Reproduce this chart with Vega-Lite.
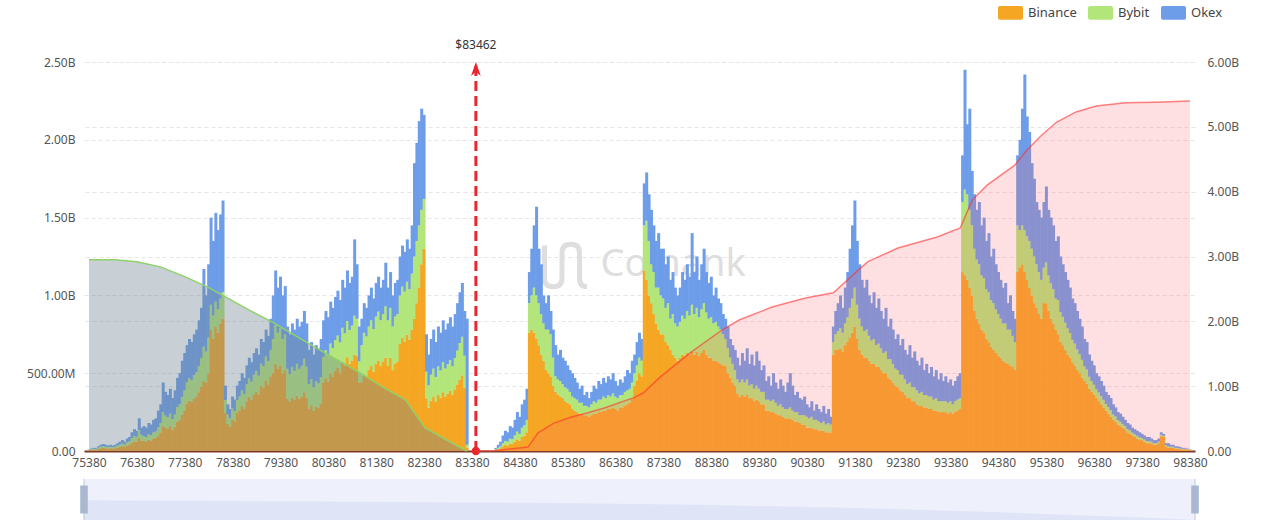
{
"$schema": "https://vega.github.io/schema/vega-lite/v6.json",
"background": "white",
"padding": {"left": 26, "top": 0, "right": 20, "bottom": 4},
"config": {"view": {"stroke": null}, "font": "Noto Sans"},
"spacing": 10,
"datasets": {
"bars": [
{"p":75380,"Binance":5,"Bybit":2,"Okex":3},{"p":75430,"Binance":7,"Bybit":4,"Okex":4},{"p":75480,"Binance":9,"Bybit":5,"Okex":6},{"p":75530,"Binance":9,"Bybit":5,"Okex":6},{"p":75580,"Binance":14,"Bybit":7,"Okex":9},{"p":75630,"Binance":18,"Bybit":10,"Okex":12},{"p":75680,"Binance":20,"Bybit":11,"Okex":14},{"p":75730,"Binance":18,"Bybit":10,"Okex":12},{"p":75780,"Binance":16,"Bybit":9,"Okex":10},{"p":75830,"Binance":18,"Bybit":10,"Okex":12},{"p":75880,"Binance":16,"Bybit":9,"Okex":10},{"p":75930,"Binance":18,"Bybit":10,"Okex":12},{"p":75980,"Binance":22,"Bybit":13,"Okex":15},
{"p":76030,"Binance":27,"Bybit":15,"Okex":18},{"p":76080,"Binance":31,"Bybit":18,"Okex":21},{"p":76130,"Binance":27,"Bybit":15,"Okex":18},{"p":76180,"Binance":36,"Bybit":20,"Okex":24},{"p":76230,"Binance":40,"Bybit":23,"Okex":27},{"p":76280,"Binance":54,"Bybit":30,"Okex":36},{"p":76330,"Binance":63,"Bybit":35,"Okex":42},{"p":76380,"Binance":58,"Bybit":33,"Okex":39},{"p":76430,"Binance":85,"Bybit":50,"Okex":75},{"p":76480,"Binance":67,"Bybit":38,"Okex":45},
{"p":76530,"Binance":64,"Bybit":32,"Okex":64},{"p":76580,"Binance":60,"Bybit":30,"Okex":60},{"p":76630,"Binance":72,"Bybit":36,"Okex":72},{"p":76680,"Binance":68,"Bybit":34,"Okex":68},{"p":76730,"Binance":80,"Bybit":40,"Okex":80},{"p":76780,"Binance":84,"Bybit":42,"Okex":84},{"p":76830,"Binance":100,"Bybit":52,"Okex":108},{"p":76880,"Binance":120,"Bybit":60,"Okex":120},
{"p":76930,"Binance":160,"Bybit":90,"Okex":190},{"p":76980,"Binance":152,"Bybit":76,"Okex":152},{"p":77030,"Binance":144,"Bybit":72,"Okex":144},{"p":77080,"Binance":160,"Bybit":80,"Okex":160},{"p":77130,"Binance":136,"Bybit":68,"Okex":136},{"p":77180,"Binance":156,"Bybit":78,"Okex":156},{"p":77230,"Binance":188,"Bybit":94,"Okex":188},{"p":77280,"Binance":200,"Bybit":100,"Okex":200},{"p":77330,"Binance":232,"Bybit":116,"Okex":232},{"p":77380,"Binance":260,"Bybit":130,"Okex":240},
{"p":77430,"Binance":306,"Bybit":136,"Okex":238},{"p":77480,"Binance":324,"Bybit":144,"Okex":252},{"p":77530,"Binance":315,"Bybit":140,"Okex":245},{"p":77580,"Binance":338,"Bybit":150,"Okex":262},{"p":77630,"Binance":351,"Bybit":156,"Okex":273},{"p":77680,"Binance":378,"Bybit":168,"Okex":294},{"p":77730,"Binance":414,"Bybit":184,"Okex":322},{"p":77780,"Binance":450,"Bybit":220,"Okex":500},{"p":77830,"Binance":440,"Bybit":200,"Okex":360},{"p":77880,"Binance":500,"Bybit":230,"Okex":470},
{"p":77930,"Binance":780,"Bybit":160,"Okex":560},{"p":77980,"Binance":720,"Bybit":150,"Okex":480},{"p":78030,"Binance":800,"Bybit":160,"Okex":570},{"p":78080,"Binance":760,"Bybit":150,"Okex":510},{"p":78130,"Binance":820,"Bybit":160,"Okex":540},{"p":78180,"Binance":850,"Bybit":170,"Okex":590},
{"p":78230,"Binance":244,"Bybit":84,"Okex":92},{"p":78280,"Binance":174,"Bybit":60,"Okex":66},{"p":78330,"Binance":157,"Bybit":54,"Okex":59},{"p":78380,"Binance":203,"Bybit":70,"Okex":77},{"p":78430,"Binance":191,"Bybit":66,"Okex":73},{"p":78480,"Binance":244,"Bybit":84,"Okex":92},{"p":78530,"Binance":261,"Bybit":90,"Okex":99},{"p":78580,"Binance":290,"Bybit":100,"Okex":110},{"p":78630,"Binance":273,"Bybit":94,"Okex":103},{"p":78680,"Binance":319,"Bybit":110,"Okex":121},{"p":78730,"Binance":348,"Bybit":120,"Okex":132},{"p":78780,"Binance":331,"Bybit":114,"Okex":125},{"p":78830,"Binance":365,"Bybit":126,"Okex":139},{"p":78880,"Binance":383,"Bybit":132,"Okex":145},{"p":78930,"Binance":360,"Bybit":124,"Okex":136},{"p":78980,"Binance":418,"Bybit":144,"Okex":158},{"p":79030,"Binance":406,"Bybit":140,"Okex":154},{"p":79080,"Binance":452,"Bybit":156,"Okex":172},{"p":79130,"Binance":429,"Bybit":148,"Okex":163},{"p":79180,"Binance":480,"Bybit":170,"Okex":200},
{"p":79230,"Binance":500,"Bybit":220,"Okex":280},{"p":79280,"Binance":560,"Bybit":250,"Okex":350},{"p":79330,"Binance":530,"Bybit":230,"Okex":290},{"p":79380,"Binance":550,"Bybit":240,"Okex":330},{"p":79430,"Binance":500,"Bybit":220,"Okex":280},{"p":79480,"Binance":520,"Bybit":230,"Okex":310},
{"p":79530,"Binance":336,"Bybit":192,"Okex":272},{"p":79580,"Binance":315,"Bybit":180,"Okex":255},{"p":79630,"Binance":344,"Bybit":197,"Okex":279},{"p":79680,"Binance":328,"Bybit":187,"Okex":265},{"p":79730,"Binance":357,"Bybit":204,"Okex":289},{"p":79780,"Binance":336,"Bybit":192,"Okex":272},{"p":79830,"Binance":349,"Bybit":199,"Okex":282},{"p":79880,"Binance":378,"Bybit":216,"Okex":306},{"p":79930,"Binance":344,"Bybit":197,"Okex":279},{"p":79980,"Binance":273,"Bybit":156,"Okex":221},{"p":80030,"Binance":294,"Bybit":168,"Okex":238},{"p":80080,"Binance":260,"Bybit":149,"Okex":211},{"p":80130,"Binance":286,"Bybit":163,"Okex":231},{"p":80180,"Binance":277,"Bybit":158,"Okex":225},{"p":80230,"Binance":302,"Bybit":173,"Okex":245},
{"p":80280,"Binance":437,"Bybit":168,"Okex":235},{"p":80330,"Binance":468,"Bybit":180,"Okex":252},{"p":80380,"Binance":447,"Bybit":172,"Okex":241},{"p":80430,"Binance":499,"Bybit":192,"Okex":269},{"p":80480,"Binance":478,"Bybit":184,"Okex":258},{"p":80530,"Binance":515,"Bybit":198,"Okex":277},{"p":80580,"Binance":536,"Bybit":206,"Okex":288},{"p":80630,"Binance":504,"Bybit":194,"Okex":272},{"p":80680,"Binance":572,"Bybit":220,"Okex":308},{"p":80730,"Binance":546,"Bybit":210,"Okex":294},{"p":80780,"Binance":603,"Bybit":232,"Okex":325},{"p":80830,"Binance":562,"Bybit":216,"Okex":302},{"p":80880,"Binance":582,"Bybit":224,"Okex":314},{"p":80930,"Binance":620,"Bybit":250,"Okex":490},{"p":80980,"Binance":610,"Bybit":240,"Okex":350},{"p":81030,"Binance":440,"Bybit":136,"Okex":224},
{"p":81080,"Binance":442,"Bybit":238,"Okex":170},{"p":81130,"Binance":494,"Bybit":266,"Okex":190},{"p":81180,"Binance":478,"Bybit":258,"Okex":184},{"p":81230,"Binance":520,"Bybit":280,"Okex":200},{"p":81280,"Binance":546,"Bybit":294,"Okex":210},{"p":81330,"Binance":510,"Bybit":274,"Okex":196},{"p":81380,"Binance":562,"Bybit":302,"Okex":216},{"p":81430,"Binance":582,"Bybit":314,"Okex":224},{"p":81480,"Binance":546,"Bybit":294,"Okex":210},{"p":81530,"Binance":572,"Bybit":308,"Okex":220},{"p":81580,"Binance":600,"Bybit":330,"Okex":280},{"p":81630,"Binance":546,"Bybit":294,"Okex":210},{"p":81680,"Binance":598,"Bybit":322,"Okex":230},{"p":81730,"Binance":520,"Bybit":280,"Okex":200},{"p":81780,"Binance":562,"Bybit":302,"Okex":216},{"p":81830,"Binance":572,"Bybit":308,"Okex":220},
{"p":81880,"Binance":688,"Bybit":312,"Okex":250},{"p":81930,"Binance":726,"Bybit":330,"Okex":264},{"p":81980,"Binance":704,"Bybit":320,"Okex":256},{"p":82030,"Binance":748,"Bybit":340,"Okex":272},{"p":82080,"Binance":715,"Bybit":325,"Okex":260},{"p":82130,"Binance":780,"Bybit":360,"Okex":310},
{"p":82180,"Binance":850,"Bybit":400,"Okex":600},{"p":82230,"Binance":950,"Bybit":400,"Okex":630},{"p":82280,"Binance":1050,"Bybit":400,"Okex":670},{"p":82330,"Binance":1200,"Bybit":350,"Okex":650},{"p":82380,"Binance":1300,"Bybit":320,"Okex":540},
{"p":82430,"Binance":338,"Bybit":172,"Okex":240},{"p":82480,"Binance":279,"Bybit":143,"Okex":198},{"p":82530,"Binance":324,"Bybit":166,"Okex":230},{"p":82580,"Binance":351,"Bybit":179,"Okex":250},{"p":82630,"Binance":315,"Bybit":161,"Okex":224},{"p":82680,"Binance":360,"Bybit":184,"Okex":256},{"p":82730,"Binance":342,"Bybit":175,"Okex":243},{"p":82780,"Binance":378,"Bybit":193,"Okex":269},{"p":82830,"Binance":351,"Bybit":179,"Okex":250},{"p":82880,"Binance":369,"Bybit":189,"Okex":262},{"p":82930,"Binance":387,"Bybit":198,"Okex":275},{"p":82980,"Binance":360,"Bybit":184,"Okex":256},{"p":83030,"Binance":396,"Bybit":202,"Okex":282},{"p":83080,"Binance":428,"Bybit":218,"Okex":304},{"p":83130,"Binance":459,"Bybit":235,"Okex":326},{"p":83180,"Binance":486,"Bybit":248,"Okex":346},{"p":83230,"Binance":405,"Bybit":207,"Okex":288},{"p":83280,"Binance":20,"Bybit":20,"Okex":810},
{"p":83880,"Binance":6,"Bybit":4,"Okex":10},{"p":83930,"Binance":12,"Bybit":8,"Okex":20},{"p":83980,"Binance":18,"Bybit":12,"Okex":30},{"p":84030,"Binance":30,"Bybit":20,"Okex":50},{"p":84080,"Binance":39,"Bybit":26,"Okex":65},{"p":84130,"Binance":36,"Bybit":24,"Okex":60},{"p":84180,"Binance":48,"Bybit":32,"Okex":80},{"p":84230,"Binance":45,"Bybit":30,"Okex":75},{"p":84280,"Binance":60,"Bybit":40,"Okex":100},{"p":84330,"Binance":75,"Bybit":50,"Okex":125},{"p":84380,"Binance":66,"Bybit":44,"Okex":110},{"p":84430,"Binance":90,"Bybit":60,"Okex":150},{"p":84480,"Binance":99,"Bybit":66,"Okex":165},{"p":84530,"Binance":120,"Bybit":80,"Okex":200},
{"p":84580,"Binance":760,"Bybit":190,"Okex":200},{"p":84630,"Binance":780,"Bybit":220,"Okex":300},{"p":84680,"Binance":760,"Bybit":290,"Okex":400},{"p":84730,"Binance":720,"Bybit":280,"Okex":570},{"p":84780,"Binance":680,"Bybit":270,"Okex":350},{"p":84830,"Binance":620,"Bybit":260,"Okex":320},{"p":84880,"Binance":580,"Bybit":240,"Okex":180},{"p":84930,"Binance":520,"Bybit":260,"Okex":170},{"p":84980,"Binance":500,"Bybit":280,"Okex":220},{"p":85030,"Binance":480,"Bybit":270,"Okex":150},{"p":85080,"Binance":420,"Bybit":180,"Okex":180},
{"p":85130,"Binance":380,"Bybit":100,"Okex":200},{"p":85180,"Binance":360,"Bybit":100,"Okex":160},{"p":85230,"Binance":350,"Bybit":100,"Okex":200},{"p":85280,"Binance":340,"Bybit":90,"Okex":170},{"p":85330,"Binance":320,"Bybit":90,"Okex":170},{"p":85380,"Binance":310,"Bybit":90,"Okex":150},{"p":85430,"Binance":300,"Bybit":80,"Okex":140},
{"p":85480,"Binance":270,"Bybit":80,"Okex":150},{"p":85530,"Binance":260,"Bybit":80,"Okex":130},{"p":85580,"Binance":250,"Bybit":80,"Okex":110},{"p":85630,"Binance":240,"Bybit":70,"Okex":90},{"p":85680,"Binance":240,"Bybit":70,"Okex":110},{"p":85730,"Binance":230,"Bybit":60,"Okex":70},{"p":85780,"Binance":230,"Bybit":60,"Okex":90},{"p":85830,"Binance":220,"Bybit":60,"Okex":60},
{"p":85880,"Binance":230,"Bybit":70,"Okex":80},{"p":85930,"Binance":240,"Bybit":80,"Okex":100},{"p":85980,"Binance":240,"Bybit":70,"Okex":90},{"p":86030,"Binance":250,"Bybit":80,"Okex":120},{"p":86080,"Binance":250,"Bybit":80,"Okex":100},{"p":86130,"Binance":260,"Bybit":90,"Okex":120},{"p":86180,"Binance":260,"Bybit":80,"Okex":100},{"p":86230,"Binance":270,"Bybit":90,"Okex":120},{"p":86280,"Binance":270,"Bybit":80,"Okex":110},{"p":86330,"Binance":280,"Bybit":90,"Okex":130},{"p":86380,"Binance":270,"Bybit":80,"Okex":100},{"p":86430,"Binance":260,"Bybit":80,"Okex":80},{"p":86480,"Binance":280,"Bybit":80,"Okex":100},{"p":86530,"Binance":280,"Bybit":80,"Okex":80},{"p":86580,"Binance":290,"Bybit":90,"Okex":100},{"p":86630,"Binance":300,"Bybit":90,"Okex":130},{"p":86680,"Binance":310,"Bybit":90,"Okex":100},{"p":86730,"Binance":340,"Bybit":100,"Okex":140},
{"p":86780,"Binance":420,"Bybit":80,"Okex":120},{"p":86830,"Binance":450,"Bybit":100,"Okex":150},{"p":86880,"Binance":500,"Bybit":100,"Okex":160},{"p":86930,"Binance":480,"Bybit":100,"Okex":140},
{"p":86980,"Binance":1160,"Bybit":290,"Okex":270},{"p":87030,"Binance":1100,"Bybit":380,"Okex":310},{"p":87080,"Binance":1000,"Bybit":350,"Okex":300},{"p":87130,"Binance":950,"Bybit":250,"Okex":350},{"p":87180,"Binance":880,"Bybit":270,"Okex":300},{"p":87230,"Binance":820,"Bybit":230,"Okex":300},{"p":87280,"Binance":780,"Bybit":270,"Okex":350},{"p":87330,"Binance":750,"Bybit":250,"Okex":300},{"p":87380,"Binance":750,"Bybit":230,"Okex":320},{"p":87430,"Binance":700,"Bybit":220,"Okex":280},{"p":87480,"Binance":680,"Bybit":270,"Okex":300},{"p":87530,"Binance":650,"Bybit":200,"Okex":250},{"p":87580,"Binance":620,"Bybit":260,"Okex":270},{"p":87630,"Binance":600,"Bybit":220,"Okex":230},{"p":87680,"Binance":580,"Bybit":220,"Okex":200},
{"p":87730,"Binance":600,"Bybit":230,"Okex":220},{"p":87780,"Binance":620,"Bybit":250,"Okex":280},{"p":87830,"Binance":610,"Bybit":240,"Okex":250},{"p":87880,"Binance":630,"Bybit":270,"Okex":300},{"p":87930,"Binance":620,"Bybit":250,"Okex":250},{"p":87980,"Binance":640,"Bybit":300,"Okex":460},{"p":88030,"Binance":620,"Bybit":260,"Okex":270},{"p":88080,"Binance":640,"Bybit":280,"Okex":330},{"p":88130,"Binance":610,"Bybit":250,"Okex":240},{"p":88180,"Binance":630,"Bybit":280,"Okex":290},{"p":88230,"Binance":650,"Bybit":300,"Okex":350},{"p":88280,"Binance":620,"Bybit":270,"Okex":260},{"p":88330,"Binance":600,"Bybit":250,"Okex":230},{"p":88380,"Binance":600,"Bybit":260,"Okex":260},{"p":88430,"Binance":580,"Bybit":240,"Okex":180},{"p":88480,"Binance":580,"Bybit":250,"Okex":220},{"p":88530,"Binance":570,"Bybit":230,"Okex":180},{"p":88580,"Binance":560,"Bybit":220,"Okex":170},{"p":88630,"Binance":550,"Bybit":200,"Okex":130},
{"p":88680,"Binance":550,"Bybit":170,"Okex":130},{"p":88730,"Binance":500,"Bybit":160,"Okex":140},{"p":88780,"Binance":470,"Bybit":130,"Okex":120},{"p":88830,"Binance":440,"Bybit":120,"Okex":120},{"p":88880,"Binance":420,"Bybit":100,"Okex":130},
{"p":88930,"Binance":370,"Bybit":90,"Okex":140},{"p":88980,"Binance":350,"Bybit":90,"Okex":110},{"p":89030,"Binance":360,"Bybit":100,"Okex":170},{"p":89080,"Binance":350,"Bybit":90,"Okex":140},{"p":89130,"Binance":360,"Bybit":100,"Okex":200},{"p":89180,"Binance":340,"Bybit":80,"Okex":140},{"p":89230,"Binance":340,"Bybit":90,"Okex":190},{"p":89280,"Binance":320,"Bybit":80,"Okex":150},{"p":89330,"Binance":330,"Bybit":90,"Okex":220},{"p":89380,"Binance":320,"Bybit":80,"Okex":180},{"p":89430,"Binance":300,"Bybit":80,"Okex":140},{"p":89480,"Binance":300,"Bybit":80,"Okex":170},
{"p":89530,"Binance":260,"Bybit":70,"Okex":120},{"p":89580,"Binance":260,"Bybit":70,"Okex":150},{"p":89630,"Binance":250,"Bybit":70,"Okex":100},{"p":89680,"Binance":250,"Bybit":80,"Okex":170},{"p":89730,"Binance":240,"Bybit":70,"Okex":130},{"p":89780,"Binance":230,"Bybit":60,"Okex":110},{"p":89830,"Binance":230,"Bybit":70,"Okex":160},{"p":89880,"Binance":220,"Bybit":60,"Okex":140},{"p":89930,"Binance":210,"Bybit":60,"Okex":110},{"p":89980,"Binance":210,"Bybit":60,"Okex":170},{"p":90030,"Binance":210,"Bybit":70,"Okex":220},{"p":90080,"Binance":200,"Bybit":60,"Okex":160},{"p":90130,"Binance":190,"Bybit":60,"Okex":110},{"p":90180,"Binance":190,"Bybit":60,"Okex":130},{"p":90230,"Binance":180,"Bybit":50,"Okex":110},{"p":90280,"Binance":170,"Bybit":60,"Okex":100},{"p":90330,"Binance":170,"Bybit":60,"Okex":120},
{"p":90380,"Binance":150,"Bybit":70,"Okex":80},{"p":90430,"Binance":150,"Bybit":60,"Okex":70},{"p":90480,"Binance":150,"Bybit":70,"Okex":100},{"p":90530,"Binance":140,"Bybit":60,"Okex":60},{"p":90580,"Binance":140,"Bybit":60,"Okex":100},{"p":90630,"Binance":130,"Bybit":60,"Okex":80},{"p":90680,"Binance":130,"Bybit":50,"Okex":70},{"p":90730,"Binance":130,"Bybit":60,"Okex":100},{"p":90780,"Binance":120,"Bybit":50,"Okex":70},{"p":90830,"Binance":120,"Bybit":60,"Okex":90},{"p":90880,"Binance":120,"Bybit":50,"Okex":50},
{"p":90930,"Binance":620,"Bybit":80,"Okex":100},{"p":90980,"Binance":650,"Bybit":100,"Okex":150},{"p":91030,"Binance":650,"Bybit":120,"Okex":180},{"p":91080,"Binance":660,"Bybit":130,"Okex":210},{"p":91130,"Binance":640,"Bybit":120,"Okex":160},{"p":91180,"Binance":680,"Bybit":140,"Okex":230},{"p":91230,"Binance":700,"Bybit":160,"Okex":290},{"p":91280,"Binance":730,"Bybit":190,"Okex":380},{"p":91330,"Binance":760,"Bybit":220,"Okex":470},{"p":91380,"Binance":800,"Bybit":250,"Okex":560},{"p":91430,"Binance":720,"Bybit":220,"Okex":410},{"p":91480,"Binance":650,"Bybit":200,"Okex":350},{"p":91530,"Binance":620,"Bybit":180,"Okex":300},{"p":91580,"Binance":600,"Bybit":170,"Okex":280},{"p":91630,"Binance":600,"Bybit":180,"Okex":320},{"p":91680,"Binance":580,"Bybit":160,"Okex":260},{"p":91730,"Binance":560,"Bybit":150,"Okex":240},{"p":91780,"Binance":560,"Bybit":160,"Okex":300},{"p":91830,"Binance":540,"Bybit":140,"Okex":240},{"p":91880,"Binance":540,"Bybit":150,"Okex":290},{"p":91930,"Binance":520,"Bybit":140,"Okex":240},{"p":91980,"Binance":500,"Bybit":130,"Okex":220},{"p":92030,"Binance":500,"Bybit":140,"Okex":280},{"p":92080,"Binance":470,"Bybit":120,"Okex":210},{"p":92130,"Binance":460,"Bybit":130,"Okex":260},{"p":92180,"Binance":440,"Bybit":120,"Okex":220},{"p":92230,"Binance":420,"Bybit":110,"Okex":190},{"p":92280,"Binance":410,"Bybit":110,"Okex":230},{"p":92330,"Binance":390,"Bybit":100,"Okex":190},{"p":92380,"Binance":380,"Bybit":110,"Okex":230},{"p":92430,"Binance":360,"Bybit":100,"Okex":190},{"p":92480,"Binance":340,"Bybit":90,"Okex":190},{"p":92530,"Binance":340,"Bybit":100,"Okex":240},{"p":92580,"Binance":320,"Bybit":90,"Okex":190},{"p":92630,"Binance":320,"Bybit":90,"Okex":230},{"p":92680,"Binance":300,"Bybit":90,"Okex":190},{"p":92730,"Binance":290,"Bybit":80,"Okex":180},{"p":92780,"Binance":290,"Bybit":90,"Okex":220},{"p":92830,"Binance":280,"Bybit":80,"Okex":160},{"p":92880,"Binance":280,"Bybit":80,"Okex":200},{"p":92930,"Binance":270,"Bybit":80,"Okex":150},{"p":92980,"Binance":270,"Bybit":80,"Okex":190},{"p":93030,"Binance":260,"Bybit":70,"Okex":150},{"p":93080,"Binance":260,"Bybit":80,"Okex":180},{"p":93130,"Binance":250,"Bybit":70,"Okex":140},{"p":93180,"Binance":250,"Bybit":70,"Okex":180},{"p":93230,"Binance":250,"Bybit":70,"Okex":130},{"p":93280,"Binance":250,"Bybit":70,"Okex":160},{"p":93330,"Binance":240,"Bybit":70,"Okex":130},{"p":93380,"Binance":250,"Bybit":70,"Okex":140},{"p":93430,"Binance":240,"Bybit":60,"Okex":120},{"p":93480,"Binance":250,"Bybit":70,"Okex":130},{"p":93530,"Binance":260,"Bybit":70,"Okex":150},{"p":93580,"Binance":270,"Bybit":70,"Okex":160},
{"p":93630,"Binance":1150,"Bybit":450,"Okex":300},{"p":93680,"Binance":1130,"Bybit":550,"Okex":770},{"p":93730,"Binance":1100,"Bybit":550,"Okex":450},{"p":93780,"Binance":1050,"Bybit":500,"Okex":650},{"p":93830,"Binance":1000,"Bybit":450,"Okex":350},{"p":93880,"Binance":900,"Bybit":400,"Okex":350},{"p":93930,"Binance":850,"Bybit":380,"Okex":320},{"p":93980,"Binance":820,"Bybit":380,"Okex":400},{"p":94030,"Binance":780,"Bybit":350,"Okex":320},{"p":94080,"Binance":760,"Bybit":350,"Okex":390},{"p":94130,"Binance":720,"Bybit":320,"Okex":310},{"p":94180,"Binance":700,"Bybit":320,"Okex":380},{"p":94230,"Binance":670,"Bybit":300,"Okex":280},{"p":94280,"Binance":650,"Bybit":300,"Okex":350},{"p":94330,"Binance":630,"Bybit":280,"Okex":290},{"p":94380,"Binance":610,"Bybit":270,"Okex":270},{"p":94430,"Binance":600,"Bybit":250,"Okex":250},{"p":94480,"Binance":580,"Bybit":240,"Okex":230},{"p":94530,"Binance":570,"Bybit":250,"Okex":260},{"p":94580,"Binance":560,"Bybit":220,"Okex":170},{"p":94630,"Binance":550,"Bybit":230,"Okex":220},{"p":94680,"Binance":540,"Bybit":200,"Okex":160},{"p":94730,"Binance":520,"Bybit":180,"Okex":150},
{"p":94780,"Binance":1150,"Bybit":300,"Okex":450},{"p":94830,"Binance":1180,"Bybit":240,"Okex":580},{"p":94880,"Binance":1200,"Bybit":250,"Okex":750},{"p":94930,"Binance":1150,"Bybit":270,"Okex":1000},{"p":94980,"Binance":1100,"Bybit":280,"Okex":770},{"p":95030,"Binance":1050,"Bybit":300,"Okex":700},{"p":95080,"Binance":1000,"Bybit":300,"Okex":550},{"p":95130,"Binance":950,"Bybit":300,"Okex":500},{"p":95180,"Binance":920,"Bybit":280,"Okex":400},{"p":95230,"Binance":880,"Bybit":270,"Okex":400},{"p":95280,"Binance":850,"Bybit":250,"Okex":400},
{"p":95330,"Binance":950,"Bybit":228,"Okex":422},{"p":95380,"Binance":950,"Bybit":262,"Okex":488},{"p":95430,"Binance":900,"Bybit":228,"Okex":422},{"p":95480,"Binance":850,"Bybit":228,"Okex":422},{"p":95530,"Binance":820,"Bybit":220,"Okex":410},{"p":95580,"Binance":780,"Bybit":200,"Okex":370},{"p":95630,"Binance":750,"Bybit":220,"Okex":410},{"p":95680,"Binance":700,"Bybit":192,"Okex":358},{"p":95730,"Binance":680,"Bybit":182,"Okex":338},{"p":95780,"Binance":650,"Bybit":175,"Okex":325},{"p":95830,"Binance":620,"Bybit":168,"Okex":312},{"p":95880,"Binance":600,"Bybit":158,"Okex":292},{"p":95930,"Binance":570,"Bybit":144,"Okex":266},{"p":95980,"Binance":550,"Bybit":140,"Okex":260},{"p":96030,"Binance":520,"Bybit":133,"Okex":247},{"p":96080,"Binance":500,"Bybit":122,"Okex":228},{"p":96130,"Binance":470,"Bybit":116,"Okex":214},{"p":96180,"Binance":450,"Bybit":94,"Okex":176},{"p":96230,"Binance":430,"Bybit":94,"Okex":176},{"p":96280,"Binance":400,"Bybit":77,"Okex":143},{"p":96330,"Binance":380,"Bybit":70,"Okex":130},{"p":96380,"Binance":360,"Bybit":66,"Okex":124},{"p":96430,"Binance":340,"Bybit":56,"Okex":104},{"p":96480,"Binance":320,"Bybit":56,"Okex":104},{"p":96530,"Binance":300,"Bybit":52,"Okex":98},{"p":96580,"Binance":280,"Bybit":49,"Okex":91},{"p":96630,"Binance":260,"Bybit":42,"Okex":78},{"p":96680,"Binance":240,"Bybit":42,"Okex":78},{"p":96730,"Binance":220,"Bybit":42,"Okex":78},{"p":96780,"Binance":200,"Bybit":35,"Okex":65},{"p":96830,"Binance":190,"Bybit":32,"Okex":58},{"p":96880,"Binance":170,"Bybit":28,"Okex":52},{"p":96930,"Binance":160,"Bybit":28,"Okex":52},{"p":96980,"Binance":150,"Bybit":24,"Okex":46},{"p":97030,"Binance":140,"Bybit":21,"Okex":39},{"p":97080,"Binance":120,"Bybit":21,"Okex":39},{"p":97130,"Binance":110,"Bybit":21,"Okex":39},{"p":97180,"Binance":100,"Bybit":18,"Okex":32},{"p":97230,"Binance":90,"Bybit":18,"Okex":32},{"p":97280,"Binance":80,"Bybit":18,"Okex":32},{"p":97330,"Binance":70,"Bybit":18,"Okex":32},{"p":97380,"Binance":70,"Bybit":14,"Okex":26},{"p":97430,"Binance":60,"Bybit":14,"Okex":26},{"p":97480,"Binance":50,"Bybit":14,"Okex":26},{"p":97530,"Binance":50,"Bybit":14,"Okex":26},{"p":97580,"Binance":50,"Bybit":10,"Okex":20},{"p":97630,"Binance":40,"Bybit":10,"Okex":20},{"p":97680,"Binance":40,"Bybit":10,"Okex":20},{"p":97730,"Binance":50,"Bybit":10,"Okex":20},{"p":97780,"Binance":95,"Bybit":10,"Okex":15},{"p":97830,"Binance":90,"Bybit":8,"Okex":12},{"p":97880,"Binance":30,"Bybit":7,"Okex":13},{"p":97930,"Binance":20,"Bybit":10,"Okex":20},{"p":97980,"Binance":20,"Bybit":7,"Okex":13},{"p":98030,"Binance":20,"Bybit":7,"Okex":13},{"p":98080,"Binance":15,"Bybit":5,"Okex":10},{"p":98130,"Binance":15,"Bybit":5,"Okex":10},{"p":98180,"Binance":10,"Bybit":5,"Okex":10},{"p":98230,"Binance":10,"Bybit":4,"Okex":6},{"p":98280,"Binance":10,"Bybit":4,"Okex":6},{"p":98330,"Binance":10,"Bybit":2,"Okex":3},{"p":98380,"Binance":5,"Bybit":2,"Okex":3}
],
"left": [{"p":75380,"c":2950},{"p":75920,"c":2950},{"p":76380,"c":2920},{"p":76870,"c":2840},{"p":77380,"c":2690},{"p":77880,"c":2520},{"p":78220,"c":2380},{"p":78710,"c":2180},{"p":79230,"c":1980},{"p":79850,"c":1710},{"p":80270,"c":1530},{"p":80680,"c":1360},{"p":81050,"c":1200},{"p":81510,"c":990},{"p":81990,"c":790},{"p":82400,"c":355},{"p":83270,"c":0}],
"right": [{"p":83462,"c":0},{"p":83840,"c":5},{"p":84550,"c":60},{"p":84760,"c":280},{"p":85090,"c":430},{"p":85440,"c":520},{"p":85800,"c":590},{"p":86130,"c":660},{"p":86750,"c":820},{"p":86950,"c":890},{"p":87310,"c":1140},{"p":87930,"c":1510},{"p":88610,"c":1870},{"p":88960,"c":2020},{"p":89650,"c":2220},{"p":90350,"c":2360},{"p":90930,"c":2440},{"p":91450,"c":2790},{"p":91650,"c":2920},{"p":92280,"c":3130},{"p":93100,"c":3300},{"p":93580,"c":3440},{"p":93830,"c":3870},{"p":94140,"c":4100},{"p":94720,"c":4410},{"p":94970,"c":4640},{"p":95280,"c":4870},{"p":95590,"c":5070},{"p":96000,"c":5230},{"p":96420,"c":5320},{"p":97040,"c":5370},{"p":97660,"c":5380},{"p":98380,"c":5400}],
"shadow": [{"p":75380,"s":0.48},{"p":80000,"s":0.45},{"p":84650,"s":0.42},{"p":88000,"s":0.37},{"p":91180,"s":0.3},{"p":94500,"s":0.18},{"p":97700,"s":0.04},{"p":98380,"s":0}],
"ends": [{"p":75380,"h":0.5},{"p":98380,"h":0.5}]
},
"vconcat": [
{
"width": 1111,
"height": 389,
"encoding": {
  "x": {"field": "p", "type": "quantitative", "title": null,
    "scale": {"domain": [75380, 98380], "nice": false, "zero": false},
    "axis": {"values": [75380,76380,77380,78380,79380,80380,81380,82380,83380,84380,85380,86380,87380,88380,89380,90380,91380,92380,93380,94380,95380,96380,97380,98380],
      "format": "d", "grid": false, "ticks": false, "labelPadding": 6, "labelFontSize": 12, "labelColor": "#555", "labelFlush": false, "labelOverlap": false,
      "domainColor": "#7d3a2c", "domainWidth": 2}}
},
"layer": [
 {
  "layer": [
   {"data": {"values": [{"p": 86063, "v": 1195, "t": "Coinank"}]},
    "mark": {"type": "text", "align": "left", "baseline": "middle", "fontSize": 38, "color": "#dedede", "font": "Noto Sans"},
    "encoding": {"y": {"field": "v", "type": "quantitative", "title": null}, "text": {"field": "t"}}},
   {"data": {"values": [{"p": 85339, "v": 1200}]},
    "mark": {"type": "point", "shape": "M-0.85,-0.75 V0.55 Q-0.85,0.9 -0.5,0.9 Q-0.15,0.9 -0.15,0.55 V-0.45 Q-0.15,-0.8 0.2,-0.8 Q0.55,-0.8 0.55,-0.45 V0.55 Q0.55,0.9 0.85,0.9", "size": 2500, "filled": false, "stroke": "#dedede", "strokeWidth": 5, "opacity": 1},
    "encoding": {"y": {"field": "v", "type": "quantitative", "title": null}}},
   {"data": {"name": "bars"},
    "transform": [{"fold": ["Binance", "Bybit", "Okex"], "as": ["ex", "v"]}],
    "mark": {"type": "bar", "width": 3},
    "encoding": {
      "y": {"field": "v", "type": "quantitative", "stack": "zero", "title": null,
        "scale": {"domain": [0, 2500], "nice": false},
        "axis": {"orient": "left", "values": [0, 500, 1000, 1500, 2000, 2500], "labelExpr": "datum.value == 0 ? '0.00' : datum.value < 1000 ? format(datum.value, '.2f') + 'M' : format(datum.value / 1000, '.2f') + 'B'",
          "grid": true, "gridDash": [4, 3], "gridColor": "#e6e6e6", "domain": false, "ticks": false, "labelPadding": 9, "labelFontSize": 12, "labelColor": "#555"}},
      "order": {"field": "ex", "sort": "ascending"},
      "color": {"field": "ex", "type": "nominal",
        "scale": {"domain": ["Binance", "Bybit", "Okex"], "range": ["#f5a623", "#b3e67a", "#6d9de8"]},
        "legend": {"orient": "none", "legendX": 914, "legendY": -62, "direction": "horizontal", "title": null,
          "symbolType": "M-0.85,-0.55 H0.85 Q1,-0.55 1,-0.4 V0.4 Q1,0.55 0.85,0.55 H-0.85 Q-1,0.55 -1,0.4 V-0.4 Q-1,-0.55 -0.85,-0.55 Z",
          "symbolSize": 625, "symbolStrokeWidth": 0, "symbolOpacity": 1, "labelFontSize": 13, "labelColor": "#444", "labelOffset": 5, "columnPadding": 11}}
    }},
   {"data": {"values": [{"p": 83462, "lo": 0, "hi": 2500, "t": "$83462"}]},
    "layer": [
      {"mark": {"type": "rule", "color": "#e8262e", "strokeWidth": 3, "strokeDash": [10, 5]},
       "encoding": {"y": {"field": "lo", "type": "quantitative", "title": null}, "y2": {"field": "hi"}}},
      {"mark": {"type": "point", "shape": "M0,0 L0.7,2 L0,1.4 L-0.7,2 Z", "size": 196, "filled": true, "color": "#e8262e", "opacity": 1, "strokeWidth": 0},
       "encoding": {"y": {"field": "hi", "type": "quantitative", "title": null}}},
      {"mark": {"type": "circle", "size": 70, "color": "#e8262e", "opacity": 1},
       "encoding": {"y": {"field": "lo", "type": "quantitative", "title": null}}},
      {"mark": {"type": "text", "dy": -17, "fontSize": 12, "color": "#333", "baseline": "middle"},
       "encoding": {"y": {"field": "hi", "type": "quantitative", "title": null}, "text": {"field": "t"}}}
    ]}
  ]
 },
 {
  "layer": [
   {"data": {"name": "left"},
    "mark": {"type": "area", "color": "rgb(110,132,145)", "opacity": 0.38, "line": {"color": "#8fd16b", "opacity": 1, "strokeWidth": 1.5}},
    "encoding": {"y": {"field": "c", "type": "quantitative", "title": null,
      "scale": {"domain": [0, 6000], "nice": false},
      "axis": {"orient": "right", "values": [0, 1000, 2000, 3000, 4000, 5000, 6000], "labelExpr": "datum.value == 0 ? '0.00' : format(datum.value / 1000, '.2f') + 'B'",
        "grid": true, "gridDash": [4, 3], "gridColor": "#e6e6e6", "domain": false, "ticks": false, "labelPadding": 12, "labelFontSize": 12, "labelColor": "#555"}}}},
   {"data": {"name": "right"},
    "mark": {"type": "area", "color": "#ff646e", "opacity": 0.2, "line": {"color": "#ff3030", "opacity": 0.6, "strokeWidth": 1.5}},
    "encoding": {"y": {"field": "c", "type": "quantitative", "title": null}}}
  ]
 }
],
"resolve": {"scale": {"y": "independent"}}
},
{
"width": 1111,
"height": 41,
"encoding": {
  "x": {"field": "p", "type": "quantitative", "title": null, "axis": null,
    "scale": {"domain": [75380, 98380], "nice": false, "zero": false}}
},
"layer": [
  {"data": {"values": [{"p": 75380, "p2": 98380}]},
   "mark": {"type": "rect", "color": "#eef0fb"},
   "encoding": {"x2": {"field": "p2"}}},
  {"data": {"name": "shadow"},
   "mark": {"type": "area", "color": "#dfe4f7", "opacity": 1},
   "encoding": {"y": {"field": "s", "type": "quantitative", "axis": null, "title": null, "scale": {"domain": [0, 1], "nice": false}}}},
  {"data": {"name": "ends"},
   "mark": {"type": "rule", "color": "#bcc6d9", "strokeWidth": 1},
   "encoding": {}},
  {"data": {"name": "ends"},
   "mark": {"type": "point", "shape": "M-0.27,-1 H0.27 V1 H-0.27 Z", "size": 784, "filled": true, "color": "#a9b8cf", "opacity": 1, "strokeWidth": 0},
   "encoding": {"y": {"field": "h", "type": "quantitative", "axis": null, "title": null, "scale": {"domain": [0, 1], "nice": false}}}}
]
}
]
}
